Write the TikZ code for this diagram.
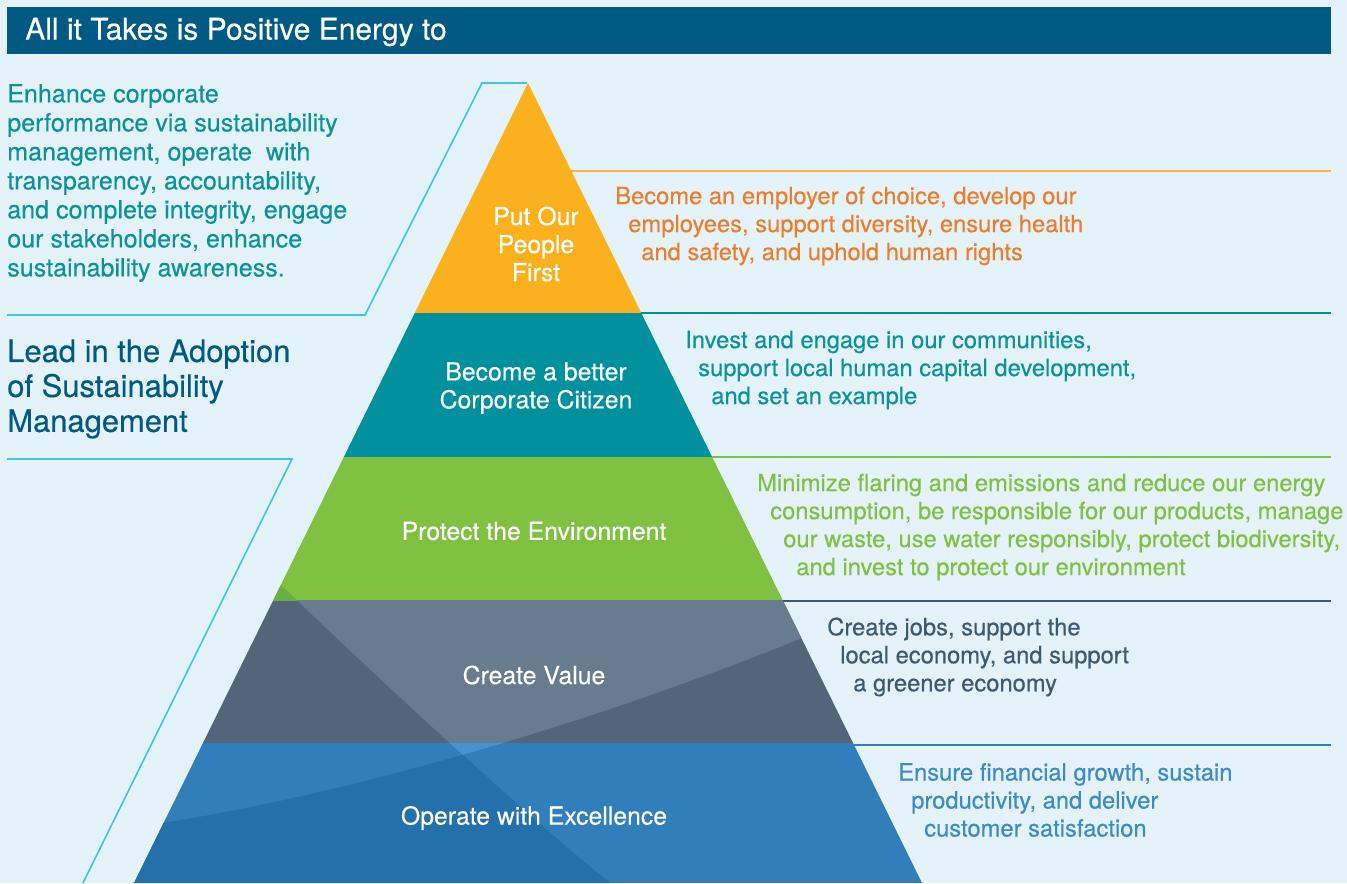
\documentclass[tikz,border=0pt]{standalone}
\usepackage{fontspec}
\setmainfont{TeX Gyre Heros}[FakeBold=0.35]
\definecolor{bgblue}{HTML}{E4F3FA}
\definecolor{headblue}{HTML}{005A84}
\definecolor{rulecyan}{HTML}{41C3EB}
\definecolor{pyellow}{HTML}{FBB01E}
\definecolor{pteal}{HTML}{00909E}
\definecolor{pgreen}{HTML}{80C142}
\definecolor{pgreendark}{HTML}{6AAE45}
\definecolor{pslate}{HTML}{687C90}
\definecolor{pslatedark}{HTML}{536579}
\definecolor{pblue}{HTML}{317FBA}
\definecolor{pbluedark}{HTML}{2470AA}
\definecolor{pbluelight}{HTML}{4594CF}
\definecolor{txtorange}{HTML}{EE7D2B}
\definecolor{txtteal}{HTML}{0C929B}
\definecolor{txtgreen}{HTML}{80C142}
\definecolor{txtslate}{HTML}{3D5A73}
\definecolor{txtblue}{HTML}{3D8BC8}
\definecolor{rorange}{HTML}{FBB540}
\definecolor{rslate}{HTML}{3D5A73}
\newcommand{\stepin}[1]{\hspace*{#1}}
\begin{document}
\begin{tikzpicture}[x=0.75pt,y=0.75pt,yscale=-1,xscale=1,
  cyanrule/.style={draw=rulecyan, line width=1.2},
  bandrule/.style={line width=1.2},
  rtext/.style={anchor=west, inner sep=0, align=left, font=\fontsize{17.8}{21}\selectfont},
  ptext/.style={inner sep=0, align=center, text=white, font=\fontsize{18.6}{21}\selectfont}]
%Background
\fill[bgblue] (0,0) rectangle (1347,883);
\useasboundingbox (0,0) rectangle (1347,883);
%Shape: Header bar
\fill[headblue] (7,7) rectangle (1331,54);

%Pyramid bands
\begin{scope}
\clip (528,83) -- (922,883) -- (134,883) -- cycle;
\fill[pyellow] (0,83) rectangle (1347,313);
\fill[pteal] (0,313) rectangle (1347,457);
\fill[pgreen] (0,457) rectangle (1347,600);
\fill[pslatedark] (0,600) rectangle (1347,743);
\fill[pblue] (0,743) rectangle (1347,883);
%green corner left of the diagonal
\begin{scope}
\clip (0,457) rectangle (1347,600);
\fill[pgreendark] (200,505) -- (281,585) .. controls (380,680) and (520,810) .. (610,883) -- (0,883) -- (0,505) -- cycle;
\end{scope}
%slate band: right of diagonal and above the curve
\begin{scope}
\clip (0,600) rectangle (1347,743);
\clip (163,823) .. controls (400,785) and (650,700) .. (802,638) -- (1347,500) -- (1347,0) -- (0,0) -- (0,860) -- cycle;
\fill[pslate] (200,505) -- (281,585) .. controls (380,680) and (520,810) .. (610,883) -- (1347,883) -- (1347,505) -- cycle;
\end{scope}
%blue band: left of diagonal and below the curve
\begin{scope}
\clip (0,743) rectangle (1347,883);
\clip (163,823) .. controls (400,785) and (650,700) .. (802,638) -- (1347,500) -- (1347,883) -- (0,883) -- (0,860) -- cycle;
\fill[pbluedark] (200,505) -- (281,585) .. controls (380,680) and (520,810) .. (610,883) -- (0,883) -- (0,505) -- cycle;
\end{scope}
%blue band: right of diagonal and above the curve
\begin{scope}
\clip (0,743) rectangle (1347,883);
\clip (163,823) .. controls (400,785) and (650,700) .. (802,638) -- (1347,500) -- (1347,0) -- (0,0) -- (0,860) -- cycle;
\fill[pbluelight] (200,505) -- (281,585) .. controls (380,680) and (520,810) .. (610,883) -- (1347,883) -- (1347,505) -- cycle;
\end{scope}
\end{scope}

%Straight Lines: left frames
\draw[cyanrule] (7,315) -- (365,315) -- (482,83) -- (527,83);
\draw[cyanrule] (7,459) -- (292,459) -- (83,883);
%Straight Lines: band rules
\draw[bandrule, draw=rorange] (571,171) -- (1331,171);
\draw[bandrule, draw=pteal] (641,313) -- (1331,313);
\draw[bandrule, draw=pgreen] (712,457) -- (1331,457);
\draw[bandrule, draw=rslate] (783,601) -- (1331,601);
\draw[bandrule, draw=pblue] (854,745) -- (1331,745);

% Text Node
\node[anchor=west, inner sep=0, text=white, font=\fontsize{22.5}{26}\selectfont] (title) at (25,32) {All it Takes is Positive Energy to};
% Text Node
\node[anchor=west, inner sep=0, align=left, text=txtteal, font=\fontsize{18.8}{21.75}\selectfont] (aim) at (7,183)
  {Enhance corporate\\performance via sustainability\\management, operate\ \ with\\transparency, accountability,\\and complete integrity, engage\\our stakeholders, enhance\\sustainability awareness.};
% Text Node
\node[anchor=west, inner sep=0, align=left, text=headblue, font=\fontsize{23.2}{26.2}\selectfont] (lead) at (7,389)
  {Lead in the Adoption\\of Sustainability\\Management};

% Text Node
\node[ptext] (people) at (536,244) {Put Our\\People\\First};
% Text Node
\node[ptext] (citizen) at (536,388) {Become a better\\Corporate Citizen};
% Text Node
\node[ptext] (environment) at (534,531) {Protect the Environment};
% Text Node
\node[ptext] (value) at (534,675) {Create Value};
% Text Node
\node[ptext] (excellence) at (534,818) {Operate with Excellence};

% Text Node
\node[rtext, text=txtorange] (peopletext) at (615,226)
  {Become an employer of choice, develop our\\\stepin{9.75pt}employees, support diversity, ensure health\\\stepin{19.5pt}and safety, and uphold human rights};
% Text Node
\node[rtext, text=txtteal] (citizentext) at (685,370)
  {Invest and engage in our communities,\\\stepin{9.75pt}support local human capital development,\\\stepin{19.5pt}and set an example};
% Text Node
\node[rtext, text=txtgreen] (environmenttext) at (757,527)
  {Minimize flaring and emissions and reduce our energy\\\stepin{9.75pt}consumption, be responsible for our products, manage\\\stepin{19.5pt}our waste, use water responsibly, protect biodiversity,\\\stepin{29.25pt}and invest to protect our environment};
% Text Node
\node[rtext, text=txtslate] (valuetext) at (827,657)
  {Create jobs, support the\\\stepin{9.75pt}local economy, and support\\\stepin{19.5pt}a greener economy};
% Text Node
\node[rtext, text=txtblue] (excellencetext) at (898,800)
  {Ensure financial growth, sustain\\\stepin{9.75pt}productivity, and deliver\\\stepin{19.5pt}customer satisfaction};
\end{tikzpicture}
\end{document}
